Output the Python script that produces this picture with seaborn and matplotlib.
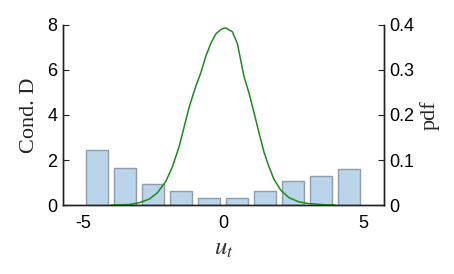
import numpy as np
import pandas as pd
import matplotlib
matplotlib.use("Agg")
import matplotlib.pyplot as plt
import seaborn as sns

# Data
bin_centers = [-4.5, -3.5, -2.5, -1.5, -0.5, 0.5, 1.5, 2.5, 3.5, 4.5]
cond_d = [2.45, 1.66, 0.93, 0.61, 0.30, 0.30, 0.61, 1.07, 1.30, 1.60]

pdf_x = [-4.0, -3.36, -3.0, -2.64, -2.35, -2.05, -1.81, -1.57, -1.39, -1.21,
         -0.98, -0.80, -0.62, -0.44, -0.26, -0.08, 0.04, 0.10, 0.33, 0.51,
         0.63, 0.75, 0.93, 1.11, 1.29, 1.46, 1.64, 1.82, 2.06, 2.36, 2.71,
         3.07, 3.67, 4.0]
pdf_y = [0.0, 0.001, 0.005, 0.013, 0.027, 0.052, 0.085, 0.130, 0.174, 0.218,
         0.263, 0.293, 0.330, 0.359, 0.380, 0.390, 0.393, 0.393, 0.385, 0.359,
         0.322, 0.285, 0.248, 0.204, 0.159, 0.118, 0.085, 0.057, 0.033, 0.016,
         0.007, 0.003, 0.0005, 0.0]

x_ticks = [-5, 0, 5]
left_ticks = [0, 2, 4, 6, 8]
right_ticks = [0, 0.1, 0.2, 0.3, 0.4]
right_ticklabels = ["0", "0.1", "0.2", "0.3", "0.4"]

sns.set_style("white")
plt.rcParams['font.family'] = ['Liberation Sans', 'DejaVu Sans']
plt.rcParams['mathtext.fontset'] = 'stix'

fig = plt.figure(figsize=(4.54, 2.74), dpi=100)
ax = fig.add_axes([0.1388, 0.2518, 0.707, 0.657])

bars_df = pd.DataFrame({"x": bin_centers, "y": cond_d})
sns.barplot(data=bars_df, x="x", y="y", native_scale=True, width=0.8,
            color="#bad4ea", edgecolor="#8e9cab", linewidth=1.0,
            saturation=1, ax=ax)

ax.set_xlim(-5.72, 5.75)
ax.set_ylim(0, 8)
ax.set_xticks(x_ticks)
ax.set_xticklabels(["-5", "0", "5"])
ax.set_yticks(left_ticks)
ax.set_yticklabels([str(v) for v in left_ticks])
ax.set_ylabel("Cond. D", family=['Liberation Serif'], fontsize=16, labelpad=6)

ax2 = ax.twinx()
line_df = pd.DataFrame({"x": pdf_x, "y": pdf_y})
sns.lineplot(data=line_df, x="x", y="y", color="#1a8c1a", linewidth=1.1, ax=ax2)
ax2.set_ylim(0, 0.4)
ax2.set_yticks(right_ticks)
ax2.set_yticklabels(right_ticklabels)
ax2.set_ylabel("pdf", family=['Liberation Serif'], fontsize=16, labelpad=4)
ax2.set_xlabel("")

for a in (ax, ax2):
    a.spines['top'].set_visible(False)
    for s in a.spines.values():
        s.set_color("#222222")
        s.set_linewidth(1.0)
    a.tick_params(axis='y', direction='in', length=4, width=0.8, labelsize=13,
                  colors="#222222", labelcolor="black")
ax.tick_params(axis='x', direction='out', length=4, width=0.8, labelsize=13,
               colors="#222222", labelcolor="black", pad=3)
ax.tick_params(axis='y', left=True, pad=4)
ax2.tick_params(axis='y', right=True, pad=4)
ax.set_xlabel(r"$u_t$", fontsize=18, labelpad=3, color="#333333")

fig.savefig("out.png", dpi=100)
